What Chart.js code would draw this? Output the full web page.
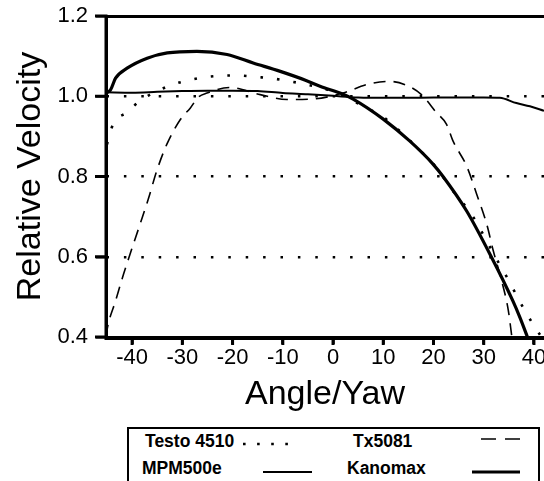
<!DOCTYPE html>
<html>
<head>
<meta charset="utf-8">
<script src="https://cdn.jsdelivr.net/npm/chart.js@4.4.3/dist/chart.umd.min.js"></script>
<style>
    html, body { margin: 0; padding: 0; background: #fff; }
    #wrap { position: relative; width: 544px; height: 481px; overflow: hidden; background: #fff; }
    #chart { position: absolute; left: 0; top: 0; }
    #legendBox { position: absolute; left: 127px; top: 427px; width: 413px; height: 80px; border: 2px solid #000; box-sizing: border-box; }
    .item { position: absolute; white-space: nowrap; font: bold 17.5px "Liberation Sans", Arial, sans-serif; line-height: 20px; color: #000; }
    .sample { position: absolute; }
</style>
</head>
<body>
<div id="wrap">
    <canvas id="chart" width="544" height="420"></canvas>
    <div id="legendBox"></div>
</div>
<script>
// tick labels
const xTicks = [-40, -30, -20, -10, 0, 10, 20, 30, 40];
const yTicks = [0.4, 0.6, 0.8, 1.0, 1.2];

const seriesNames = ['Testo 4510', 'Tx5081', 'MPM500e', 'Kanomax'];

// Testo 4510 (dotted)
const testoX = [-45, -43.8, -41, -38.4, -35.8, -32.4, -29.1, -25.8, -22.5, -19.1, -15.2, -11.9, -8.5, -5.2, -1, 2, 6, 10, 15.6, 18.1, 20.3, 24.3, 26.6, 28.6, 30.2, 33.5, 35.2, 36.8, 40.2, 41.5];
const testoY = [0.88, 0.93, 0.96, 0.989, 1.008, 1.027, 1.039, 1.047, 1.051, 1.052, 1.048, 1.044, 1.037, 1.029, 1.016, 1.002, 0.975, 0.948, 0.886, 0.855, 0.826, 0.757, 0.722, 0.685, 0.648, 0.573, 0.536, 0.497, 0.424, 0.40];

// Tx5081 (dashed)
const txX = [-45.2, -44.9, -43.3, -41.7, -40.4, -38.4, -36.7, -35.1, -33.1, -30.4, -28.4, -26.8, -25.1, -20.5, -14.5, -9.2, -4.3, 2, 6.7, 11.3, 14.7, 17.6, 20.6, 22.6, 23.9, 26.6, 28.6, 30.6, 31.9, 33.2, 34.9, 35.6];
const txY = [0.40, 0.424, 0.49, 0.557, 0.607, 0.682, 0.747, 0.814, 0.88, 0.942, 0.971, 0.998, 1.008, 1.022, 1.004, 0.992, 0.993, 1.008, 1.029, 1.037, 1.027, 1.004, 0.959, 0.93, 0.888, 0.826, 0.756, 0.681, 0.615, 0.557, 0.466, 0.40];

// MPM500e (thin solid)
const mpmX = [-45.2, -40, -35, -30, -25, -20, -15, -10, -5, 0, 5, 10, 15, 20, 25, 30, 33.2, 36.5, 39.2, 42];
const mpmY = [1.010, 1.009, 1.011, 1.013, 1.014, 1.014, 1.013, 1.008, 1.005, 1.001, 0.997, 0.996, 0.996, 0.997, 0.997, 0.997, 0.996, 0.983, 0.975, 0.964];

// Kanomax (thick solid)
const kanoX = [-45.2, -44.3, -43.3, -41, -37, -33, -27.1, -21.1, -15.9, -10.5, -5.5, -2.6, 2, 4, 10, 15.3, 19.9, 21.9, 26.6, 31.5, 35.8, 37.2, 38.7];
const kanoY = [1.008, 1.016, 1.045, 1.07, 1.095, 1.108, 1.112, 1.104, 1.083, 1.062, 1.04, 1.025, 1.005, 0.993, 0.943, 0.888, 0.831, 0.80, 0.714, 0.60, 0.49, 0.449, 0.40];

const FONT = '"Liberation Sans", Arial, sans-serif';
Chart.defaults.font.family = FONT;
Chart.defaults.color = '#000';

const pts = (xs, ys) => xs.map((x, i) => ({ x: x, y: ys[i] }));

const styles = [
    { borderWidth: 2.6, borderDash: [2.6, 14] },
    { borderWidth: 1.6, borderDash: [12, 8] },
    { borderWidth: 2, borderDash: [] },
    { borderWidth: 3.2, borderDash: [] }
];
const seriesData = [pts(testoX, testoY), pts(txX, txY), pts(mpmX, mpmY), pts(kanoX, kanoY)];

const datasets = seriesNames.map((name, i) => ({
    label: name,
    data: seriesData[i],
    borderColor: '#000',
    borderWidth: styles[i].borderWidth,
    borderDash: styles[i].borderDash,
    borderCapStyle: 'butt',
    pointRadius: 0,
    fill: false,
    cubicInterpolationMode: 'monotone'
}));

const X_MIN = -45.2, X_MAX = 42;

// solid frame on the left and bottom, with outward tick marks
const framePlugin = {
    id: 'frame',
    afterDraw(chart) {
        const ctx = chart.ctx;
        const xs = chart.scales.x;
        const ys = chart.scales.y;
        const left = xs.getPixelForValue(X_MIN);
        const right = xs.getPixelForValue(X_MAX);
        const top = ys.getPixelForValue(1.2);
        const bottom = ys.getPixelForValue(0.4);
        ctx.save();
        ctx.setLineDash([]);
        ctx.strokeStyle = '#000';
        ctx.lineWidth = 3;
        ctx.beginPath();
        ctx.moveTo(left, top - 1.5);
        ctx.lineTo(left, bottom + 1.5);
        ctx.lineTo(right, bottom + 1.5);
        for (let i = 0; i < yTicks.length; i++) {
            const py = ys.getPixelForValue(yTicks[i]);
            ctx.moveTo(left - 11, py);
            ctx.lineTo(left, py);
        }
        for (let i = 0; i < xTicks.length; i++) {
            const px = xs.getPixelForValue(xTicks[i]);
            ctx.moveTo(px, bottom);
            ctx.lineTo(px, bottom + 8);
        }
        ctx.stroke();
        ctx.restore();
    }
};

new Chart(document.getElementById('chart').getContext('2d'), {
    type: 'line',
    data: { datasets: datasets },
    plugins: [framePlugin],
    options: {
        responsive: false,
        animation: false,
        devicePixelRatio: 1,
        events: [],
        layout: { padding: { top: 16, right: 0, bottom: 0, left: 0 } },
        plugins: { legend: { display: false }, tooltip: { enabled: false } },
        scales: {
            x: {
                type: 'linear',
                position: 'bottom',
                min: X_MIN,
                max: X_MAX,
                afterBuildTicks: s => { s.ticks = xTicks.map(v => ({ value: v })); },
                afterFit: s => { s.height = 83; s.paddingLeft = 0; s.paddingRight = 0; },
                border: { display: true, color: '#000', width: 3 },
                grid: { drawOnChartArea: false, drawTicks: true, tickLength: 7, tickWidth: 2.5, tickColor: '#000' },
                ticks: { font: { size: 22 }, color: '#000', padding: 1, maxRotation: 0, autoSkip: false },
                title: { display: true, text: 'Angle/Yaw', font: { size: 34 }, color: '#000', padding: { top: 0, bottom: 5 } }
            },
            x2: {
                type: 'linear',
                position: 'top',
                min: X_MIN,
                max: X_MAX,
                afterFit: s => { s.height = 0; },
                grid: { display: false, drawTicks: false },
                ticks: { display: false },
                border: { display: true, color: '#000', width: 3 }
            },
            y: {
                min: 0.4,
                max: 1.2,
                afterBuildTicks: s => { s.ticks = yTicks.map(v => ({ value: v })); },
                afterFit: s => { s.width = 106; s.paddingTop = 0; s.paddingBottom = 0; },
                border: { display: true, color: '#000', width: 3, dash: [2.5, 14.9], dashOffset: 1.5 },
                grid: {
                    color: ctx => (ctx.tick && ctx.tick.value > 0.5 && ctx.tick.value < 1.1) ? '#000' : 'rgba(0,0,0,0)',
                    lineWidth: 2.5,
                    drawTicks: true,
                    tickLength: 10,
                    tickWidth: 2.5,
                    tickColor: '#000',
                    tickBorderDash: []
                },
                ticks: { font: { size: 22 }, color: '#000', padding: 8, callback: v => v.toFixed(1) },
                title: { display: true, text: 'Relative Velocity', font: { size: 34 }, color: '#000', padding: { top: 10, bottom: 0 } }
            }
        }
    }
});

// legend: text then a line sample, two columns
const wrap = document.getElementById('wrap');
const legendPos = [
    { tx: 145, ty: 431, sx: 243, sy: 444, sw: 48 },
    { tx: 353, ty: 431, sx: 481, sy: 439, sw: 42 },
    { tx: 142, ty: 458, sx: 263, sy: 472, sw: 49 },
    { tx: 347, ty: 458, sx: 472, sy: 472, sw: 48 }
];
seriesNames.forEach((name, i) => {
    const p = legendPos[i];
    const t = document.createElement('div');
    t.className = 'item';
    t.style.left = p.tx + 'px';
    t.style.top = p.ty + 'px';
    t.textContent = name;
    wrap.appendChild(t);

    const ns = 'http://www.w3.org/2000/svg';
    const svg = document.createElementNS(ns, 'svg');
    svg.setAttribute('class', 'sample');
    svg.setAttribute('width', p.sw);
    svg.setAttribute('height', 8);
    svg.style.left = p.sx + 'px';
    svg.style.top = (p.sy - 4) + 'px';
    const ln = document.createElementNS(ns, 'line');
    ln.setAttribute('x1', 0);
    ln.setAttribute('x2', p.sw);
    ln.setAttribute('y1', 4);
    ln.setAttribute('y2', 4);
    ln.setAttribute('stroke', '#000');
    ln.setAttribute('stroke-width', styles[i].borderWidth);
    const dash = i === 0 ? '2.6 11.5' : (i === 1 ? '15 9' : '');
    if (dash) ln.setAttribute('stroke-dasharray', dash);
    svg.appendChild(ln);
    wrap.appendChild(svg);
});
</script>
</body>
</html>
